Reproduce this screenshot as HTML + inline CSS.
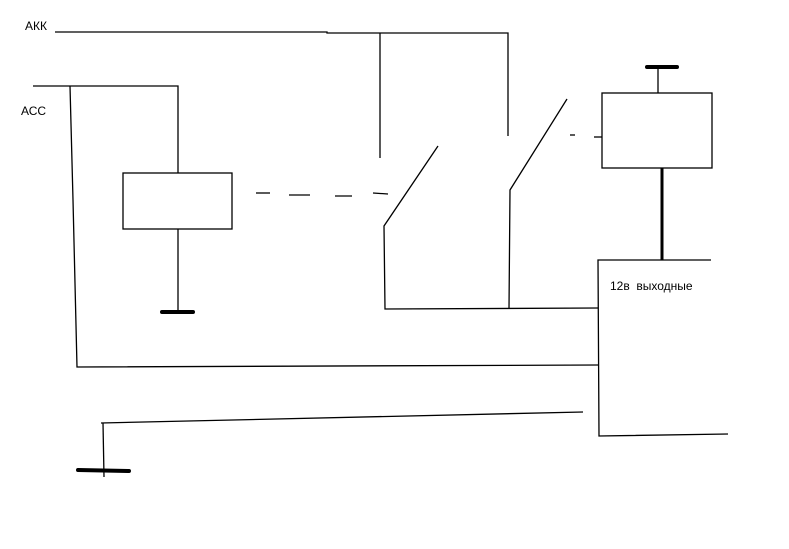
<!DOCTYPE html>
<html><head><meta charset="utf-8"><style>
html,body{margin:0;padding:0;background:#fff;width:789px;height:549px;overflow:hidden}
svg{display:block}
text{font-family:"Liberation Sans",sans-serif;font-size:12px;fill:#000}
</style></head><body>
<svg width="789" height="549" viewBox="0 0 789 549" xmlns="http://www.w3.org/2000/svg">
<g stroke="#000" stroke-width="1.3" fill="none">
<polyline points="55,32 327,32 327,33 508,33 508,136"/>
<line x1="380" y1="33" x2="380" y2="158"/>
<polyline points="33,86 178,86 178,173"/>
<polyline points="70,86 73,200 77,367 598,365"/>
<rect x="123" y="173" width="109" height="56"/>
<line x1="178" y1="229" x2="178" y2="312"/>
<line x1="256" y1="193" x2="270" y2="193"/>
<line x1="289" y1="195" x2="310" y2="195"/>
<line x1="335" y1="196" x2="352" y2="196"/>
<line x1="373" y1="193" x2="388" y2="194"/>
<polyline points="438,146 384,226 385,309 598,308"/>
<polyline points="567,99 510,190 509,309"/>
<line x1="570" y1="135" x2="575" y2="135"/>
<line x1="594" y1="137" x2="602" y2="137"/>
<rect x="602" y="93" width="110" height="75"/>
<line x1="658" y1="68" x2="658" y2="93"/>
<polyline points="711,260 598,260 599,436 728,434"/>
<polyline points="583,412 101,423"/>
<line x1="103" y1="423" x2="104" y2="477"/>
</g>
<line x1="662" y1="168" x2="662" y2="260" stroke="#000" stroke-width="3"/>
<g stroke="#000" stroke-width="4" stroke-linecap="round">
<line x1="162" y1="312" x2="193" y2="312"/>
<line x1="647" y1="67" x2="677" y2="67"/>
<line x1="78" y1="470" x2="129" y2="471"/>
</g>
<text x="25" y="30">АКК</text>
<text x="21" y="115">АСС</text>
<text x="610" y="290">12в&#160; выходные</text>
</svg>
</body></html>
